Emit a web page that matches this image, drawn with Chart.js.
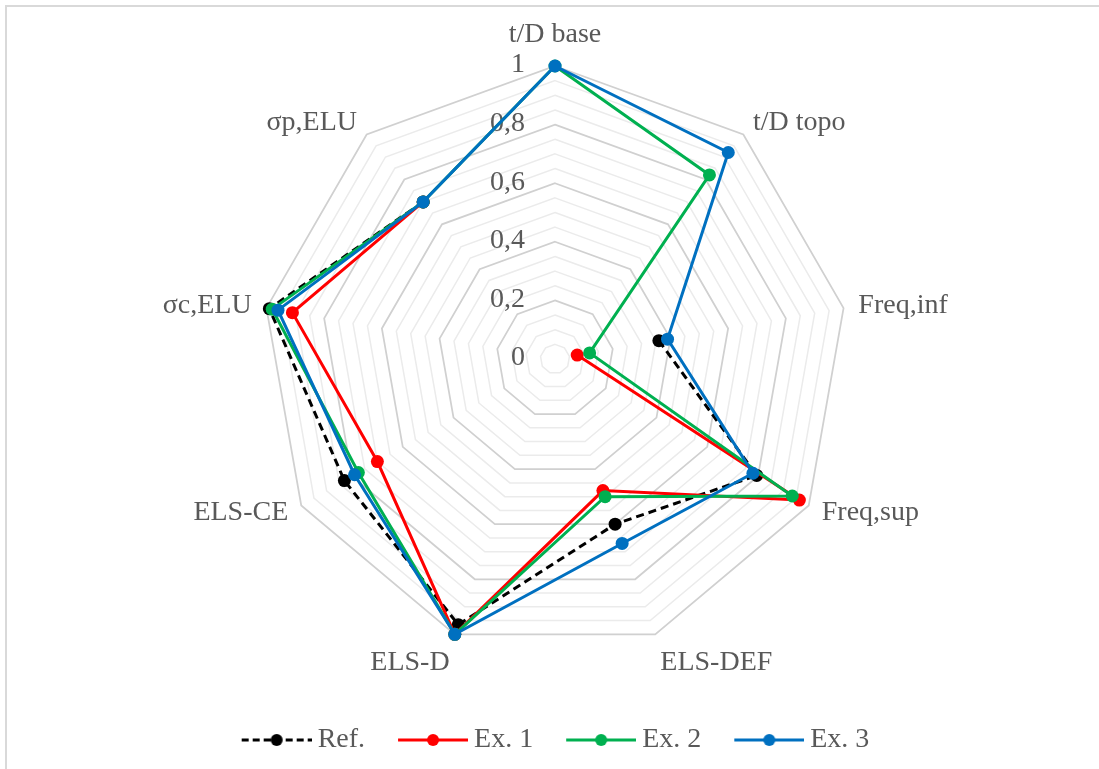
<!DOCTYPE html>
<html>
<head>
<meta charset="utf-8">
<script src="https://cdn.jsdelivr.net/npm/chart.js@4.4.1/dist/chart.umd.min.js"></script>
<style>
html, body { margin: 0; padding: 0; background: #ffffff; }
#wrap { position: relative; width: 1099px; height: 769px; overflow: hidden; }
#frame { position: absolute; left: 5px; top: 5px; width: 1200px; height: 900px;
         border-left: 2px solid #d9d9d9; border-top: 2px solid #d9d9d9; }
#c { position: absolute; left: 0; top: 0; }
</style>
</head>
<body>
<div id="wrap"><div id="frame"></div><canvas id="c" width="1099" height="769"></canvas></div>
<script>
// ---- data ----
const categories = ['t/D base', 't/D topo', 'Freq,inf', 'Freq,sup', 'ELS-DEF', 'ELS-D', 'ELS-CE', 'σc,ELU', 'σp,ELU'];
const refValues = [null, null, 0.36, 0.795, 0.60, 0.965, 0.83, 0.99, 0.70];
const ex1Values = [null, null, 0.077, 0.963, 0.478, 1.0, 0.70, 0.91, 0.70];
const ex2Values = [1.0, 0.82, 0.12, 0.935, 0.50, 1.0, 0.775, 0.98, 0.70];
const ex3Values = [1.0, 0.92, 0.39, 0.78, 0.67, 1.0, 0.79, 0.96, 0.70];
const seriesNames = ['Ref.', 'Ex. 1', 'Ex. 2', 'Ex. 3'];
const tickValues = [0, 0.2, 0.4, 0.6, 0.8, 1];
const tickLabels = ['0', '0,2', '0,4', '0,6', '0,8', '1'];

// ---- styles ----
const colors = ['#000000', '#ff0000', '#00b050', '#0070c0'];
const textColor = '#595959';
const fontFamily = '"Liberation Serif", "Times New Roman", serif';
Chart.defaults.font.family = fontFamily;

function legendSwatch(color, dashed) {
  const c = document.createElement('canvas');
  c.width = 78; c.height = 16;
  const g = c.getContext('2d');
  g.strokeStyle = color; g.lineWidth = 3;
  if (dashed) g.setLineDash([7, 4]);
  g.beginPath(); g.moveTo(8, 8); g.lineTo(78, 8); g.stroke();
  g.setLineDash([]);
  g.fillStyle = color;
  g.beginPath(); g.arc(43, 8, 6, 0, Math.PI * 2); g.fill();
  return c;
}
const swatches = colors.map((c, i) => legendSwatch(c, i === 0));

function makeDataset(i, values) {
  return {
    label: seriesNames[i],
    data: values,
    borderColor: colors[i],
    backgroundColor: colors[i],
    borderWidth: 3,
    borderDash: i === 0 ? [8, 5] : [],
    pointRadius: 6.5,
    pointHoverRadius: 6.5,
    pointBackgroundColor: colors[i],
    pointBorderColor: colors[i],
    pointBorderWidth: 0,
    fill: false,
    tension: 0,
    spanGaps: false,
    order: 4 - i
  };
}

function isMajor(v) { return Math.abs(v * 5 - Math.round(v * 5)) < 1e-6; }

const axisTextPlugin = {
  id: 'axisText',
  beforeDatasetsDraw(chart) {
    const s = chart.scales.r;
    const ctx = chart.ctx;
    ctx.save();
    ctx.font = '28px ' + fontFamily;
    ctx.fillStyle = textColor;
    ctx.textAlign = 'right';
    ctx.textBaseline = 'middle';
    tickValues.forEach((v, i) => {
      const d = s.getDistanceFromCenterForValue(v);
      ctx.fillText(tickLabels[i], s.xCenter - 30, s.yCenter - d - 1);
    });
    chart.data.labels.forEach((lab, i) => {
      const p = s.getPointPosition(i, s.drawingArea + 15);
      const a = s.getIndexAngle(i);
      const sx = Math.sin(a), cy = Math.cos(a);
      ctx.textAlign = Math.abs(sx) < 0.05 ? 'center' : (sx > 0 ? 'left' : 'right');
      ctx.textBaseline = cy > 0.9 ? 'bottom' : (cy < -0.9 ? 'top' : 'middle');
      ctx.fillText(lab, p.x, cy > 0.9 ? p.y - 2 : p.y);
    });
    ctx.restore();
  }
};

new Chart(document.getElementById('c'), {
  type: 'radar',
  data: {
    labels: categories,
    datasets: [
      makeDataset(0, refValues),
      makeDataset(1, ex1Values),
      makeDataset(2, ex2Values),
      makeDataset(3, ex3Values)
    ]
  },
  options: {
    responsive: false,
    animation: false,
    devicePixelRatio: 1,
    clip: false,
    layout: { padding: { left: 12, right: 0, top: 66, bottom: 5 } },
    scales: {
      r: {
        min: 0,
        max: 1,
        ticks: { display: false, stepSize: 0.05, maxTicksLimit: 21 },
        grid: {
          color: (ctx) => (ctx.tick && isMajor(ctx.tick.value)) ? '#d0d0d0' : '#ebebeb',
          lineWidth: (ctx) => (ctx.tick && isMajor(ctx.tick.value)) ? 1.75 : 1.5
        },
        angleLines: { display: false },
        pointLabels: { display: false }
      }
    },
    plugins: {
      tooltip: { enabled: false },
      legend: {
        position: 'bottom',
        align: 'center',
        title: { display: true, text: '', padding: { top: 40, bottom: 0 }, font: { size: 1, lineHeight: 1 } },
        labels: {
          usePointStyle: true,
          pointStyleWidth: 62,
          padding: 33,
          color: textColor,
          font: { family: fontFamily, size: 28 },
          generateLabels: (chart) => chart.data.datasets.map((ds, i) => ({
            text: ds.label,
            fillStyle: ds.borderColor,
            strokeStyle: ds.borderColor,
            lineWidth: 0,
            pointStyle: swatches[i],
            hidden: false,
            datasetIndex: i,
            fontColor: textColor
          }))
        }
      }
    }
  },
  plugins: [axisTextPlugin]
});
</script>
</body>
</html>
